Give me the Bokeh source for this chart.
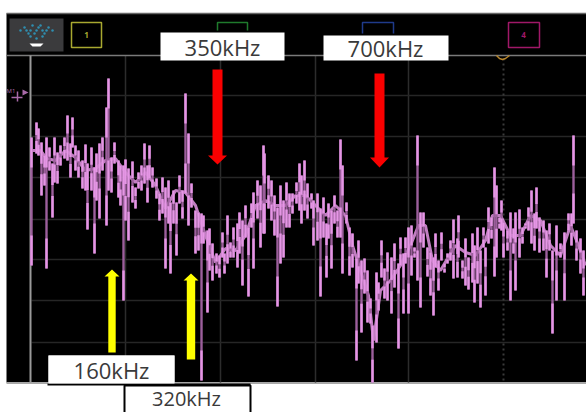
from bokeh.plotting import figure
from bokeh.embed import file_html
from bokeh.resources import INLINE
from bokeh.core.properties import value

# Spectrum trace: each spike runs from spike_top to spike_bottom (levels)
spike_x = [31,36,38,41,44,46,49,52,54,57,60,64,67,70,72,75,78,82,85,87,91,94,96,99,102,106,108,111,114,118,120,123,
           125,128,132,135,138,141,144,147,149,152,156,159,162,165,168,170,173,176,179,182,185,188,191,195,198,201,203,207,209,212,216,219,
           222,224,227,230,233,237,239,242,245,248,251,253,257,260,263,264,268,271,274,277,280,283,286,289,292,296,299,301,304,307,311,
           313,317,320,323,326,328,331,334,337,340,342,346,349,352,356,358,361,364,367,370,372,376,378,381,384,387,391,394,398,400,403,405,
           408,411,414,417,420,423,427,430,433,435,438,441,444,447,450,453,457,458,462,465,468,472,474,477,480,483,485,488,491,
           494,496,499,501,503,507,510,513,515,519,522,525,528,531,534,536,539,543,546,549,552,556,560,564,568,571,573,576,580,583]
spike_top = [137,122,128,142,155,137,147,163,137,152,145,137,115,143,117,145,150,160,144,163,147,167,153,143,137,107,78,157,142,160,165,165,
             159,168,161,187,172,165,143,165,145,167,178,193,177,187,180,202,190,202,175,190,93,133,183,210,212,213,215,230,228,243,253,255,
             232,253,215,242,227,223,212,220,205,227,203,192,180,185,145,153,175,180,195,207,185,200,182,193,193,182,163,175,160,183,193,
             200,193,208,197,223,203,210,195,210,139,165,202,227,233,258,240,260,258,270,298,325,272,282,240,268,252,257,243,263,237,253,237,
             227,225,247,135,212,212,247,252,257,233,260,232,263,253,240,219,238,215,260,238,257,233,245,227,250,227,247,207,217,
             167,185,217,200,222,230,212,228,212,209,227,223,207,190,213,187,217,220,230,223,250,225,243,232,213,213,135,230,238,250]
spike_bottom = [265,153,155,195,185,268,170,217,182,183,165,158,160,177,147,170,177,188,190,229,190,253,200,218,170,225,190,192,163,197,205,300,
                220,240,202,208,188,190,183,202,178,187,198,220,213,268,223,273,223,255,203,218,193,225,207,253,250,380,243,312,270,280,273,277,
                257,273,263,257,257,267,253,285,237,296,227,268,218,247,233,233,208,220,235,306,263,257,227,227,213,203,210,223,210,218,208,
                245,240,296,237,277,238,268,223,237,237,273,223,275,267,360,283,332,293,322,323,382,342,310,277,298,300,313,287,348,265,313,263,
                313,275,257,280,307,247,276,295,315,267,290,260,272,263,260,278,277,257,278,285,289,282,302,283,307,247,295,243,238,
                276,257,228,230,257,250,300,253,290,257,243,228,230,243,250,228,252,250,277,250,333,300,257,300,230,245,223,260,273,295]

# Bright centre of the trace
core_x = [32,40,46,55,65,75,85,95,105,115,125,135,145,155,165,175,185,195,205,215,225,235,245,255,265,275,285,295,305,315,325,335,345,
          352,360,368,373,380,390,400,410,418,425,432,440,447,455,465,475,485,492,500,510,520,530,540,550,560,570,578,585]
core_y = [150,150,158,160,150,157,170,168,160,158,172,182,172,185,208,190,192,205,235,262,248,250,235,205,200,205,205,195,195,205,215,205,215,
          245,270,295,340,290,280,265,245,225,225,260,270,258,245,252,255,240,215,215,235,235,215,220,245,255,225,245,265]

grid_x = [125,220,315,408]
grid_y = [95,136,177,219,259,300,342]

labels = ["350kHz", "700kHz", "160kHz"]
label_x = [222, 385, 111]
label_y = [46, 47, 369]
low_label = "320kHz"
low_label_x = 186
low_label_y = 398

TRACE = "#9c5f9c"
CORE = "#f19df1"
TIP = "#e596e5"
FONT = value("Open Sans")

p = figure(width=586, height=412, x_range=(0, 586), y_range=(412, 0), toolbar_location=None,
           output_backend="svg", min_border=0, outline_line_color=None,
           background_fill_color="white", border_fill_color="white")
p.xaxis.visible = False
p.yaxis.visible = False
p.xgrid.visible = False
p.ygrid.visible = False

# screen
p.quad(left=[6], right=[586], top=[13], bottom=[382], fill_color="black", line_color=None)
p.segment(x0=[6], x1=[586], y0=[382.5], y1=[382.5], line_color="#a8a8a8", line_width=2)
p.segment(x0=[6], x1=[586], y0=[13], y1=[13], line_color="#666666", line_width=1.5)

# grid
p.segment(x0=grid_x, x1=grid_x, y0=[55]*len(grid_x), y1=[382]*len(grid_x), line_color="#2c2c2c", line_width=1.5)
p.segment(x0=[31]*len(grid_y), x1=[586]*len(grid_y), y0=grid_y, y1=grid_y, line_color="#262626", line_width=1.5)
p.segment(x0=[503], x1=[503], y0=[58], y1=[382], line_color="#3a3a3a", line_width=2, line_dash="2 3")
p.segment(x0=[6], x1=[586], y0=[55], y1=[55], line_color="#7a7a7a", line_width=1.5)
p.segment(x0=[30], x1=[30], y0=[55], y1=[382], line_color="#9a9a9a", line_width=2)

# header buttons
p.quad(left=[9], right=[63], top=[18], bottom=[51], fill_color="#3b3b3d", line_color=None)
dots_x = [20,24,28,32,36,40,44,48,52,30,36,42,26,34,38,46,30,42]
dots_y = [30,27,33,25,30,25,33,27,30,36,38,36,30,33,27,30,30,30]
p.scatter(x=dots_x, y=dots_y, size=2.5, color="#2f8fb0", line_color=None)
p.patch(x=[29,43,40,32], y=[43,43,46,46], fill_color="white", line_color=None)
p.quad(left=[71], right=[101], top=[22], bottom=[47], fill_color=None, line_color="#a8a830", line_width=1.5)
p.quad(left=[508], right=[539], top=[22], bottom=[47], fill_color=None, line_color="#a01868", line_width=1.5)
p.multi_line(xs=[[217,217,247,247],[362,362,393,393]], ys=[[30,22,22,30],[33,22,22,33]],
             line_color=["#1f7a2c","#1f3a8a"], line_width=1.5)
p.text(x=[86,523], y=[34,34], text=["1","4"], text_color=["#a8a830","#a01868"], text_font=FONT,
       text_font_size="8px", text_font_style="bold", text_align="center", text_baseline="middle")

# marker
p.patch(x=[22,28,22], y=[89,92,95], fill_color="#a96aa9", line_color=None)
p.text(x=[6], y=[90], text=["M1"], text_color=["#a96aa9"], text_font=FONT, text_font_size="6px", text_baseline="middle")
p.segment(x0=[11,17], x1=[22,17], y0=[97,91], y1=[97,101], line_color="#a96aa9", line_width=1.5)
p.multi_line(xs=[[496,499,502,505,509]], ys=[[55,58,59,58,55]], line_color="#b8862c", line_width=1.5)

# trace: bright band beneath, spikes above, bright tips on the spikes
p.line(core_x, core_y, line_color=CORE, line_width=3, line_alpha=0.8)
p.segment(x0=spike_x, x1=spike_x, y0=spike_top, y1=spike_bottom, line_color=TRACE, line_width=2.4)
tip_len = [min(30, 0.4 * (b - t)) for t, b in zip(spike_top, spike_bottom)]
p.segment(x0=spike_x, x1=spike_x, y0=spike_top, y1=[t + d for t, d in zip(spike_top, tip_len)],
          line_color=TIP, line_width=2.4)
p.segment(x0=spike_x, x1=spike_x, y0=[b - d for b, d in zip(spike_bottom, tip_len)], y1=spike_bottom,
          line_color=TIP, line_width=2.4)

# annotation boxes
p.quad(left=[160,323,48], right=[284,448,174], top=[32,35,355], bottom=[60,60,382],
       fill_color="white", line_color=None)
p.quad(left=[124], right=[250], top=[385], bottom=[420], fill_color="white", line_color="black", line_width=2)
p.segment(x0=[47], x1=[250], y0=[384], y1=[384], line_color="black", line_width=2)
p.quad(left=[48], right=[174], top=[355], bottom=[383], fill_color="white", line_color=None)

# arrows
def arrow(x, tip, base, half, head_half, head_len, color):
    d = 1 if base > tip else -1
    p.patch(x=[x, x + head_half, x + half, x + half, x - half, x - half, x - head_half],
            y=[tip, tip + d*head_len, tip + d*head_len, base, base, tip + d*head_len, tip + d*head_len],
            fill_color=color, line_color=None)

arrow(217, 164, 69, 5, 9.5, 9, "#fa0000")
arrow(379, 167, 73, 5, 9.5, 10, "#fa0000")
arrow(111.5, 269, 352, 3.7, 7.5, 7, "#ffff00")
arrow(190.5, 273, 359, 4.2, 7.5, 7, "#ffff00")

p.text(x=label_x, y=label_y, text=labels, text_color="#3a3a3a", text_font=FONT, text_font_size="22px",
       text_align="center", text_baseline="middle")
p.text(x=[low_label_x], y=[low_label_y], text=[low_label], text_color="#3a3a3a", text_font=FONT,
       text_font_size="20px", text_align="center", text_baseline="middle")

open("out.html", "w").write(file_html(p, INLINE))
